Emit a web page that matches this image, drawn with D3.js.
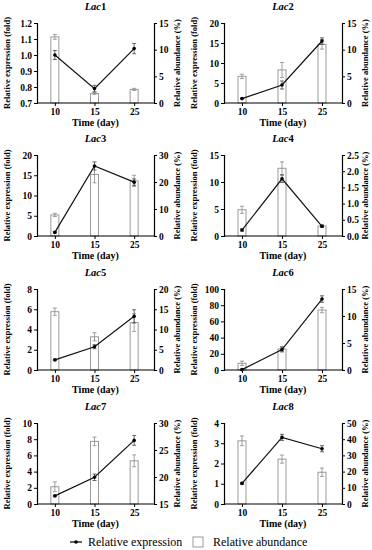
<!DOCTYPE html>
<html>
<head>
<meta charset="utf-8">
<script src="https://cdn.jsdelivr.net/npm/d3@7"></script>
<style>
  body { margin: 0; background: #fff; }
  svg text { font-family: "Liberation Serif", "Times New Roman", serif; }
</style>
</head>
<body>
<div id="chart"></div>
<script>
// small multiples: laccase genes, expression (line) vs abundance (bars)

const days = ["10", "15", "25"];
const geneNums = ["1", "2", "3", "4", "5", "6", "7", "8"];

// relative expression (fold), left axis -> line
const exprMean = [
  [1.00, 0.79, 1.04],
  [1.1, 4.5, 15.5],
  [0.9, 17.3, 13.3],
  [1.1, 10.6, 1.8],
  [1.0, 2.3, 5.3],
  [0.5, 25.3, 87.6],
  [1.0, 3.3, 7.85],
  [1.02, 3.29, 2.73]
];
const exprErr = [
  [0.028, 0.02, 0.032],
  [0.1, 1.0, 0.8],
  [0.2, 1.0, 0.8],
  [0.2, 0.7, 0.2],
  [0.05, 0.2, 0.65],
  [0.5, 3, 4],
  [0.05, 0.4, 0.6],
  [0.05, 0.15, 0.15]
];

// relative abundance (%), right axis -> bars
const abundMean = [
  [12.4, 1.8, 2.55],
  [5.0, 6.2, 11.0],
  [7.8, 22.8, 20.4],
  [0.81, 2.09, 0.31],
  [14.4, 8.2, 11.7],
  [1.24, 3.9, 11.1],
  [18.2, 26.6, 23.0],
  [39.0, 27.7, 19.6]
];
const abundErr = [
  [0.45, 0.2, 0.2],
  [0.4, 1.4, 0.9],
  [0.6, 3.1, 2.1],
  [0.11, 0.2, 0.03],
  [0.9, 1.0, 2.2],
  [0.4, 0.4, 0.5],
  [0.9, 0.8, 1.1],
  [3.0, 2.5, 2.6]
];

// axis ticks
const leftTicks = [
  [0.7, 0.8, 0.9, 1.0, 1.1, 1.2],
  [0, 5, 10, 15, 20],
  [0, 5, 10, 15, 20],
  [0, 5, 10, 15],
  [0, 2, 4, 6, 8],
  [0, 20, 40, 60, 80, 100],
  [0, 2, 4, 6, 8, 10],
  [0, 1, 2, 3, 4]
];
const rightTicks = [
  [0, 5, 10, 15],
  [0, 5, 10, 15],
  [0, 10, 20, 30],
  [0, 0.5, 1.0, 1.5, 2.0, 2.5],
  [0, 5, 10, 15, 20],
  [0, 5, 10, 15],
  [15, 20, 25, 30],
  [0, 10, 20, 30, 40, 50]
];
const leftFormat = [".1f", "d", "d", "d", "d", "d", "d", "d"];
const rightFormat = ["d", "d", "d", ".1f", "d", "d", "d", "d"];

// ----- layout -----
const W = 372, H = 550;
const colX = [[37, 154], [224, 342]];
const rowY = [[23, 103], [155, 236], [289, 370], [423, 504]];
const font = "'Liberation Serif', 'Times New Roman', serif";

const svg = d3.select("#chart").append("svg")
  .attr("width", W)
  .attr("height", H)
  .style("font-family", font);

geneNums.forEach((num, k) => {
  const col = k % 2, row = Math.floor(k / 2);
  const [x0, x1] = colX[col];
  const [y0, y1] = rowY[row];

  const g = svg.append("g");

  const x = d3.scalePoint().domain(days).range([x0 + 2, x1 - 4]).padding(0.4);
  const lt = leftTicks[k], rt = rightTicks[k];
  const yL = d3.scaleLinear().domain([lt[0], lt[lt.length - 1]]).range([y1, y0]);
  const yR = d3.scaleLinear().domain([rt[0], rt[rt.length - 1]]).range([y1, y0]);

  // bars (abundance)
  const barW = 8;
  const rows = days.map((d, i) => ({
    day: d,
    a: abundMean[k][i], ae: abundErr[k][i],
    e: exprMean[k][i], ee: exprErr[k][i]
  }));

  g.selectAll(".bar").data(rows).enter().append("rect")
    .attr("x", d => x(d.day) - barW / 2)
    .attr("y", d => yR(d.a))
    .attr("width", barW)
    .attr("height", d => y1 - yR(d.a))
    .attr("fill", "#fff")
    .attr("stroke", "#9a9a9a")
    .attr("stroke-width", 1);

  // bar error bars
  const eb = g.selectAll(".berr").data(rows).enter().append("g");
  eb.append("line")
    .attr("x1", d => x(d.day)).attr("x2", d => x(d.day))
    .attr("y1", d => yR(d.a - d.ae)).attr("y2", d => yR(d.a + d.ae))
    .attr("stroke", "#8a8a8a").attr("stroke-width", 0.8);
  [1, -1].forEach(s => {
    eb.append("line")
      .attr("x1", d => x(d.day) - 2).attr("x2", d => x(d.day) + 2)
      .attr("y1", d => yR(d.a + s * d.ae)).attr("y2", d => yR(d.a + s * d.ae))
      .attr("stroke", "#8a8a8a").attr("stroke-width", 0.8);
  });

  // line error bars
  const le = g.selectAll(".lerr").data(rows).enter().append("g");
  le.append("line")
    .attr("x1", d => x(d.day)).attr("x2", d => x(d.day))
    .attr("y1", d => yL(d.e - d.ee)).attr("y2", d => yL(d.e + d.ee))
    .attr("stroke", "#444").attr("stroke-width", 0.8);
  [1, -1].forEach(s => {
    le.append("line")
      .attr("x1", d => x(d.day) - 2).attr("x2", d => x(d.day) + 2)
      .attr("y1", d => yL(d.e + s * d.ee)).attr("y2", d => yL(d.e + s * d.ee))
      .attr("stroke", "#444").attr("stroke-width", 0.8);
  });

  // expression line
  g.append("path")
    .datum(rows)
    .attr("d", d3.line().x(d => x(d.day)).y(d => yL(d.e)))
    .attr("fill", "none")
    .attr("stroke", "#111")
    .attr("stroke-width", 1.2);

  g.selectAll(".pt").data(rows).enter().append("circle")
    .attr("cx", d => x(d.day))
    .attr("cy", d => yL(d.e))
    .attr("r", 1.8)
    .attr("fill", "#000");

  // axes
  const axL = g.append("g")
    .attr("transform", "translate(" + x0 + ",0)")
    .call(d3.axisLeft(yL).tickValues(lt).tickSize(3).tickPadding(2).tickFormat(d3.format(leftFormat[k])));
  const axR = g.append("g")
    .attr("transform", "translate(" + x1 + ",0)")
    .call(d3.axisRight(yR).tickValues(rt).tickSize(3).tickPadding(2).tickFormat(d3.format(rightFormat[k])));
  const axB = g.append("g")
    .attr("transform", "translate(0," + y1 + ")")
    .call(d3.axisBottom(x).tickSize(3).tickPadding(2).tickSizeOuter(0));

  [axL, axR, axB].forEach(ax => {
    ax.selectAll("path").attr("stroke", "#000").attr("stroke-width", 1.2);
    ax.selectAll("line").attr("stroke", "#000").attr("stroke-width", 1);
    ax.selectAll("text")
      .style("font-family", font)
      .style("font-weight", "bold")
      .style("font-size", "9.5px")
      .attr("fill", "#000");
  });
  axB.select(".domain").attr("d", "M" + x0 + ",0H" + x1);

  // title
  const t = g.append("text")
    .attr("x", (x0 + x1) / 2)
    .attr("y", y0 - 13)
    .attr("text-anchor", "middle")
    .style("font-size", "10.5px")
    .style("font-weight", "bold");
  t.append("tspan").style("font-style", "italic").text("Lac");
  t.append("tspan").text(num);

  // axis titles
  g.append("text")
    .attr("transform", "translate(" + (x0 - 27) + "," + ((y0 + y1) / 2) + ") rotate(-90)")
    .attr("text-anchor", "middle")
    .style("font-size", "8.5px")
    .style("font-weight", "bold")
    .text("Relative expression (fold)");
  g.append("text")
    .attr("transform", "translate(" + (x1 + 26) + "," + ((y0 + y1) / 2) + ") rotate(-90)")
    .attr("text-anchor", "middle")
    .style("font-size", "8.5px")
    .style("font-weight", "bold")
    .text("Relative abundance (%)");
  g.append("text")
    .attr("x", (x0 + x1) / 2)
    .attr("y", y1 + 23)
    .attr("text-anchor", "middle")
    .style("font-size", "10px")
    .style("font-weight", "bold")
    .text("Time (day)");
});

// ----- legend -----
const lg = svg.append("g").attr("transform", "translate(0,542)");
lg.append("line")
  .attr("x1", 70).attr("x2", 82).attr("y1", 0).attr("y2", 0)
  .attr("stroke", "#000").attr("stroke-width", 1.2);
lg.append("circle").attr("cx", 76).attr("cy", 0).attr("r", 1.8).attr("fill", "#000");
lg.append("text").attr("x", 88).attr("y", 4)
  .style("font-family", font)
  .style("font-size", "12px").text("Relative expression");
lg.append("rect").attr("x", 193).attr("y", -5).attr("width", 10).attr("height", 10)
  .attr("fill", "#fff").attr("stroke", "#9a9a9a");
lg.append("text").attr("x", 213).attr("y", 4)
  .style("font-family", font)
  .style("font-size", "12px").text("Relative abundance");
</script>
</body>
</html>
